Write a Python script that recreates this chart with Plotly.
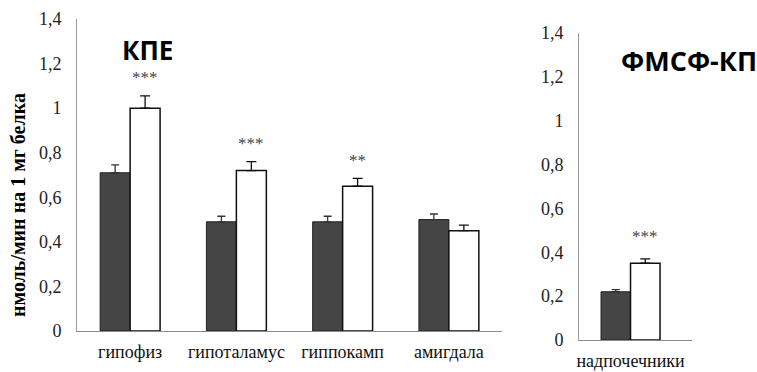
import plotly.graph_objects as go

W, H = 757, 372

# ---- data ----
regions = ["гипофиз", "гипоталамус", "гиппокамп", "амигдала"]
kpe_control = [0.71, 0.49, 0.49, 0.50]
kpe_control_err = [0.035, 0.025, 0.025, 0.025]
kpe_treated = [1.00, 0.72, 0.65, 0.45]
kpe_treated_err = [0.055, 0.04, 0.035, 0.025]
kpe_marks = ["***", "***", "**", ""]

adrenal = ["надпочечники"]
fm_control = [0.22]
fm_control_err = [0.01]
fm_treated = [0.35]
fm_treated_err = [0.02]
fm_marks = ["***"]

yticks = [0, 0.2, 0.4, 0.6, 0.8, 1.0, 1.2, 1.4]
yticklabels = ["0", "0,2", "0,4", "0,6", "0,8", "1", "1,2", "1,4"]

DARK = "#454545"
SERIF = "Liberation Serif, DejaVu Serif, serif"

def px_x(p):
    return p / W

def px_y(p):
    return (H - p) / H

fig = go.Figure()

def add_pair(cats, c, ce, t, te, xa, ya, width):
    fig.add_trace(go.Bar(
        x=cats, y=c, xaxis=xa, yaxis=ya, width=width, offset=-width,
        marker=dict(color=DARK, line=dict(color="#222222", width=1)),
        error_y=dict(type="data", symmetric=False, array=ce,
                     arrayminus=[0] * len(ce), color="#333333",
                     thickness=1.3, width=4),
        showlegend=False))
    fig.add_trace(go.Bar(
        x=cats, y=t, xaxis=xa, yaxis=ya, width=width, offset=0,
        marker=dict(color="white", line=dict(color="#111111", width=1.5)),
        error_y=dict(type="data", symmetric=False, array=te,
                     arrayminus=[0] * len(te), color="#111111",
                     thickness=1.3, width=5),
        showlegend=False))

add_pair(regions, kpe_control, kpe_control_err, kpe_treated, kpe_treated_err,
         "x", "y", 0.282)
add_pair(adrenal, fm_control, fm_control_err, fm_treated, fm_treated_err,
         "x2", "y2", 0.261)

STAR_FONT = dict(family=SERIF, size=17, color="#444")
anns = []
for cat, v, e, m in zip(regions, kpe_treated, kpe_treated_err, kpe_marks):
    if m:
        anns.append(dict(x=cat, y=v + e, xref="x", yref="y", text=m,
                         showarrow=False, xshift=15, yshift=18,
                         xanchor="center", yanchor="middle", font=STAR_FONT))
for cat, v, e, m in zip(adrenal, fm_treated, fm_treated_err, fm_marks):
    if m:
        anns.append(dict(x=cat, y=v + e, xref="x2", yref="y2", text=m,
                         showarrow=False, xshift=14, yshift=22,
                         xanchor="center", yanchor="middle", font=STAR_FONT))

anns.append(dict(x=px_x(147), y=px_y(50), xref="paper", yref="paper",
                 text="<b>КПЕ</b>", showarrow=False,
                 xanchor="center", yanchor="middle",
                 font=dict(family="Open Sans", size=26, color="black")))
anns.append(dict(x=px_x(689), y=px_y(61), xref="paper", yref="paper",
                 text="<b>ФМСФ-КП</b>", showarrow=False,
                 xanchor="center", yanchor="middle",
                 font=dict(family="Open Sans", size=27, color="black")))
anns.append(dict(x=px_x(18), y=px_y(205), xref="paper", yref="paper",
                 text="<b>нмоль/мин на 1 мг белка</b>", showarrow=False,
                 textangle=-90, xanchor="center", yanchor="middle",
                 font=dict(family=SERIF, size=20, color="black")))

yax_common = dict(range=[0, 1.4], tickvals=yticks, ticktext=yticklabels,
                  showgrid=False, zeroline=False, showline=True,
                  linecolor="#9a9a9a", linewidth=1, ticks="",
                  ticklabelstandoff=11, automargin=False,
                  tickfont=dict(family=SERIF, size=18, color="#222"))
xax_common = dict(showgrid=False, zeroline=False, showline=True,
                  linecolor="#8a8a8a", linewidth=1, ticks="",
                  ticklabelstandoff=4, automargin=False,
                  tickfont=dict(family=SERIF, size=18, color="#111"))

fig.update_layout(
    width=W, height=H, margin=dict(l=0, r=0, t=0, b=0),
    paper_bgcolor="white", plot_bgcolor="white",
    barmode="overlay",
    xaxis=dict(domain=[px_x(77), px_x(502)], range=[-0.5, 3.5],
               anchor="y", **xax_common),
    yaxis=dict(domain=[px_y(331), px_y(19)], anchor="x", **yax_common),
    xaxis2=dict(domain=[px_x(579), px_x(692)], range=[-0.456, 0.544],
                anchor="y2", **xax_common),
    yaxis2=dict(domain=[px_y(340), px_y(33)], anchor="x2", **yax_common),
    annotations=anns,
)

fig.write_html("out.html")
